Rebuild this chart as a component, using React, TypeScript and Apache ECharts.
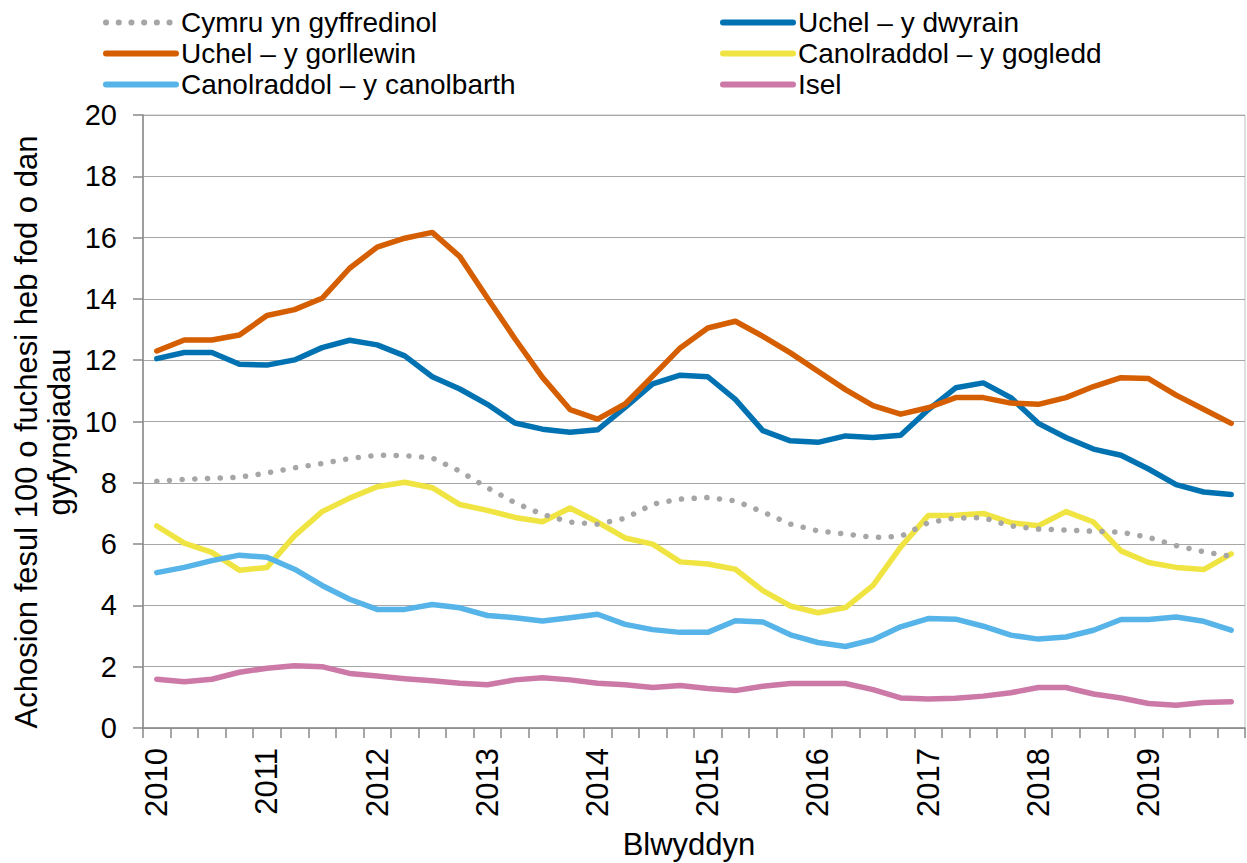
import React, { useEffect, useRef } from "react";
import * as echarts from "echarts";

const years = ["2010", "2011", "2012", "2013", "2014", "2015", "2016", "2017", "2018", "2019"];
const quarters = ["Ch1", "Ch2", "Ch3", "Ch4"];
const categories = years.flatMap((y) => quarters.map((q) => `${y} ${q}`));

const seriesNames = [
  "Cymru yn gyffredinol",
  "Uchel – y dwyrain",
  "Uchel – y gorllewin",
  "Canolraddol – y gogledd",
  "Canolraddol – y canolbarth",
  "Isel",
];

const cymru = [8.05, 8.11, 8.15, 8.18, 8.32, 8.49, 8.63, 8.79, 8.9, 8.89, 8.81, 8.38, 7.84, 7.35, 6.97, 6.72, 6.65, 6.84, 7.3, 7.47, 7.52, 7.41, 7.05, 6.65, 6.43, 6.33, 6.22, 6.25, 6.7, 6.85, 6.86, 6.59, 6.49, 6.46, 6.42, 6.39, 6.22, 5.95, 5.75, 5.6];
const uchelDwyrain = [12.05, 12.25, 12.25, 11.87, 11.84, 12.01, 12.41, 12.65, 12.5, 12.14, 11.46, 11.06, 10.56, 9.95, 9.75, 9.65, 9.73, 10.46, 11.23, 11.51, 11.46, 10.72, 9.7, 9.37, 9.32, 9.53, 9.48, 9.55, 10.38, 11.1, 11.26, 10.78, 9.94, 9.48, 9.1, 8.9, 8.45, 7.94, 7.7, 7.62];
const uchelGorllewin = [12.3, 12.66, 12.66, 12.82, 13.46, 13.65, 14.02, 15.0, 15.69, 15.98, 16.17, 15.38, 14.03, 12.7, 11.44, 10.39, 10.08, 10.57, 11.48, 12.4, 13.05, 13.27, 12.78, 12.24, 11.64, 11.04, 10.52, 10.24, 10.45, 10.78, 10.78, 10.6, 10.56, 10.78, 11.14, 11.43, 11.4, 10.86, 10.4, 9.94];
const canolGogledd = [6.59, 6.03, 5.73, 5.15, 5.24, 6.27, 7.06, 7.5, 7.87, 8.02, 7.84, 7.29, 7.1, 6.87, 6.73, 7.18, 6.72, 6.2, 6.0, 5.42, 5.35, 5.18, 4.48, 3.98, 3.76, 3.93, 4.65, 5.9, 6.93, 6.94, 7.0, 6.7, 6.6, 7.06, 6.72, 5.78, 5.4, 5.24, 5.17, 5.68];
const canolCanolbarth = [5.07, 5.24, 5.46, 5.64, 5.57, 5.18, 4.65, 4.2, 3.87, 3.87, 4.03, 3.92, 3.67, 3.6, 3.49, 3.6, 3.71, 3.38, 3.21, 3.12, 3.12, 3.5, 3.46, 3.04, 2.79, 2.66, 2.88, 3.3, 3.57, 3.55, 3.32, 3.03, 2.9, 2.97, 3.19, 3.54, 3.54, 3.62, 3.48, 3.19];
const isel = [1.59, 1.51, 1.59, 1.82, 1.95, 2.03, 2.0, 1.78, 1.7, 1.61, 1.54, 1.46, 1.41, 1.57, 1.64, 1.57, 1.46, 1.41, 1.32, 1.39, 1.29, 1.22, 1.36, 1.45, 1.45, 1.45, 1.25, 0.98, 0.95, 0.97, 1.04, 1.15, 1.32, 1.32, 1.11, 0.98, 0.8, 0.74, 0.83, 0.86];

const seriesData = [cymru, uchelDwyrain, uchelGorllewin, canolGogledd, canolCanolbarth, isel];
const colors = ["#A6A6A6", "#0072B2", "#D55E00", "#F0E442", "#56B4E9", "#CC79A7"];

const yTitle = "Achosion fesul 100 o fuchesi heb fod o dan\ngyfyngiadau";
const xTitle = "Blwyddyn";

const FONT = '"Liberation Sans", Arial, sans-serif';
const LINE_W = 5.5;
const DOT_DASH = [0.1, 12.6];

export default function App() {
  const ref = useRef<HTMLDivElement>(null);
  useEffect(() => {
    document.body.style.margin = "0";
    const chart = echarts.init(ref.current!, null, { renderer: "svg" });
    const legendText = { fontSize: 28, fontFamily: FONT, color: "#000", lineHeight: 31 };
    const legendBase = {
      orient: "vertical",
      top: 2,
      itemWidth: 70,
      itemHeight: 14,
      itemGap: 0,
      textStyle: legendText,
      itemStyle: { opacity: 0 },
      lineStyle: { width: 6 },
    };
    chart.setOption({
      animation: false,
      textStyle: { fontFamily: FONT },
      legend: [
        { ...legendBase, left: 98, data: [seriesNames[0], seriesNames[2], seriesNames[4]] },
        { ...legendBase, left: 715, data: [seriesNames[1], seriesNames[3], seriesNames[5]] },
      ],
      grid: {
        left: 143,
        top: 115,
        right: 2,
        bottom: 135,
        show: true,
        borderColor: "#BFBFBF",
        borderWidth: 1,
      },
      xAxis: {
        type: "category",
        data: categories,
        boundaryGap: true,
        axisLine: { lineStyle: { color: "#898989", width: 1.5 } },
        axisTick: { show: true, interval: 0, length: 10, lineStyle: { color: "#898989", width: 1.5 } },
        axisLabel: {
          interval: 3,
          rotate: 90,
          margin: 20,
          fontSize: 31,
          color: "#000",
          fontFamily: FONT,
          formatter: (v: string) => v.split(" ")[0],
        },
        splitLine: { show: false },
      },
      yAxis: {
        type: "value",
        min: 0,
        max: 20,
        interval: 2,
        axisLine: { show: true, lineStyle: { color: "#898989", width: 1.5 } },
        axisTick: { show: true, length: 10, lineStyle: { color: "#898989", width: 1.5 } },
        axisLabel: { margin: 26, fontSize: 29, color: "#000", fontFamily: FONT },
        splitLine: { show: true, lineStyle: { color: "#A6A6A6", width: 1.2 } },
      },
      graphic: [
        {
          type: "text",
          x: 43,
          y: 432,
          rotation: Math.PI / 2,
          style: {
            text: yTitle,
            fontSize: 31,
            fontFamily: FONT,
            fill: "#000",
            align: "center",
            verticalAlign: "middle",
            lineHeight: 33,
          },
        },
        {
          type: "text",
          x: 689,
          y: 844,
          style: {
            text: xTitle,
            fontSize: 31,
            fontFamily: FONT,
            fill: "#000",
            align: "center",
            verticalAlign: "middle",
          },
        },
      ],
      series: seriesNames.map((name, i) => ({
        name,
        type: "line",
        data: seriesData[i],
        showSymbol: false,
        symbol: "none",
        color: colors[i],
        z: i === 0 ? 3 : 2,
        lineStyle:
          i === 0
            ? { color: colors[i], width: LINE_W, type: DOT_DASH, cap: "round" }
            : { color: colors[i], width: LINE_W, cap: "round", join: "round" },
      })),
    });
    return () => chart.dispose();
  }, []);
  return <div ref={ref} style={{ width: 1247, height: 863 }} />;
}
